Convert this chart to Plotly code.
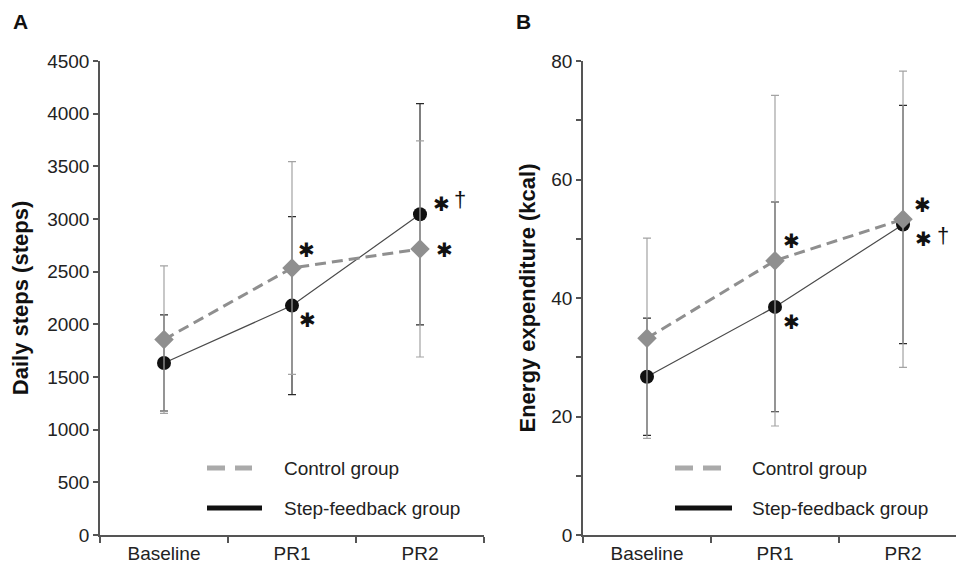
import plotly.graph_objects as go

periods = ["Baseline", "PR1", "PR2"]

# Panel A: daily steps
steps_control = [1855, 2535, 2716]
steps_control_sd = [700, 1010, 1026]
steps_feedback = [1633, 2178, 3045]
steps_feedback_sd = [456, 845, 1050]

# Panel B: energy expenditure (kcal)
kcal_control = [33.2, 46.3, 53.3]
kcal_control_sd = [16.9, 27.9, 25.0]
kcal_feedback = [26.7, 38.5, 52.4]
kcal_feedback_sd = [9.9, 17.7, 20.1]

# significance marks: (category, value, text, dx, dy) offsets in px from the point
marks_a = [("PR1", steps_control[1], "✱", 14, -18), ("PR1", steps_feedback[1], "✱", 15, 14),
           ("PR2", steps_feedback[2], "✱", 21, -10), ("PR2", steps_control[2], "✱", 24, 1)]
daggers_a = [("PR2", steps_feedback[2], "†", 40, -15)]
marks_b = [("PR1", kcal_control[1], "✱", 16, -20), ("PR1", kcal_feedback[1], "✱", 16, 15),
           ("PR2", kcal_control[2], "✱", 19, -14), ("PR2", kcal_feedback[2], "✱", 20, 14)]
daggers_b = [("PR2", kcal_feedback[2], "†", 40, 11)]

GRAY = "#8f8f8f"
AX = "#555555"
FONT = "Liberation Sans, Arial, sans-serif"

fig = go.Figure()

def add_panel(xa, ya, ctrl, ctrl_sd, fb, fb_sd):
    fig.add_trace(go.Scatter(
        x=periods, y=fb, xaxis=xa, yaxis=ya, mode="lines+markers",
        line=dict(color="#4a4a4a", width=1.2),
        marker=dict(symbol="circle", size=14, color="#111111"),
        error_y=dict(type="data", array=fb_sd, color="#2a2a2a", thickness=1.2, width=4),
        showlegend=False))
    fig.add_trace(go.Scatter(
        x=periods, y=ctrl, xaxis=xa, yaxis=ya, mode="lines+markers",
        line=dict(color=GRAY, width=3, dash="11px,6px"),
        marker=dict(symbol="diamond", size=15, color=GRAY),
        error_y=dict(type="data", array=ctrl_sd, color="#a3a3a3", thickness=1.2, width=4),
        showlegend=False))

add_panel("x", "y", steps_control, steps_control_sd, steps_feedback, steps_feedback_sd)
add_panel("x2", "y2", kcal_control, kcal_control_sd, kcal_feedback, kcal_feedback_sd)

W, H = 956, 565
def px(v):
    return v / W
def py(v):
    return 1 - v / H

xdomA = [px(100), px(484)]
xdomB = [px(583), 1.0]
ydom = [py(535), py(61)]

common_x = dict(type="category", tickson="boundaries", ticks="outside",
                ticklen=6, tickwidth=1.5, tickcolor=AX, showline=True, linecolor=AX,
                linewidth=1.5, showgrid=False, zeroline=False, automargin=False,
                tickfont=dict(family=FONT, size=19, color="#222222"))
common_y = dict(ticks="outside", ticklen=5, tickwidth=1.5, tickcolor=AX, showline=True,
                linecolor=AX, linewidth=1.5, showgrid=False, zeroline=False, automargin=False,
                tickfont=dict(family=FONT, size=19, color="#222222"))

fig.update_layout(
    width=W, height=H, margin=dict(l=0, r=0, t=0, b=0, autoexpand=False),
    paper_bgcolor="white", plot_bgcolor="white",
    xaxis=dict(domain=xdomA, anchor="y", range=[-0.5, 2.5], **common_x),
    yaxis=dict(domain=ydom, anchor="x", range=[0, 4500], dtick=500,
               title=dict(text="<b>Daily steps (steps)</b>",
                          font=dict(family=FONT, size=22, color="#111111"), standoff=12), **common_y),
    xaxis2=dict(domain=xdomB, anchor="y2", range=[-0.5, 2.414], **common_x),
    yaxis2=dict(domain=ydom, anchor="x2", range=[0, 80], dtick=20,
                minor=dict(dtick=10, ticks="outside", ticklen=5, tickwidth=1.5, tickcolor=AX),
                title=dict(text="<b>Energy expenditure (kcal)</b>",
                           font=dict(family=FONT, size=22, color="#111111"), standoff=10), **common_y),
    font=dict(family=FONT),
)

annotations = []
for xr, yr, marks, daggers in (("x", "y", marks_a, daggers_a), ("x2", "y2", marks_b, daggers_b)):
    for cat, val, txt, dx, dy in marks:
        annotations.append(dict(x=cat, y=val, xref=xr, yref=yr, text=txt, showarrow=False,
                                xshift=dx, yshift=-dy,
                                font=dict(family="DejaVu Sans", size=20, color="#111111")))
    for cat, val, txt, dx, dy in daggers:
        annotations.append(dict(x=cat, y=val, xref=xr, yref=yr, text=txt, showarrow=False,
                                xshift=dx, yshift=-dy,
                                font=dict(family=FONT, size=22, color="#111111")))

# panel letters
for letter, lx in (("A", 20), ("B", 523)):
    annotations.append(dict(x=px(lx), y=py(22), xref="paper", yref="paper", text=f"<b>{letter}</b>",
                            xanchor="center", yanchor="middle", showarrow=False,
                            font=dict(family=FONT, size=21, color="#111111")))

# legends (drawn inside each panel)
shapes = []
for (lx0, ldash1, lx1, tx) in ((207, 252, 262, 282), (675, 722, 732, 750)):
    shapes.append(dict(type="line", xref="paper", yref="paper", x0=px(lx0), x1=px(ldash1),
                       y0=py(468), y1=py(468), line=dict(color="#aaaaaa", width=5, dash="18px,10px")))
    shapes.append(dict(type="line", xref="paper", yref="paper", x0=px(lx0), x1=px(lx1),
                       y0=py(508), y1=py(508), line=dict(color="#111111", width=5)))
    annotations.append(dict(x=px(tx), y=py(468), xref="paper", yref="paper", text="Control group",
                            xanchor="left", yanchor="middle", showarrow=False,
                            font=dict(family=FONT, size=19, color="#222222")))
    annotations.append(dict(x=px(tx), y=py(508), xref="paper", yref="paper", text="Step-feedback group",
                            xanchor="left", yanchor="middle", showarrow=False,
                            font=dict(family=FONT, size=19, color="#222222")))

fig.update_layout(annotations=annotations, shapes=shapes)
fig.write_html("out.html", config={"displayModeBar": False},
               post_script="document.body.style.margin='0';document.body.style.overflow='hidden';")
